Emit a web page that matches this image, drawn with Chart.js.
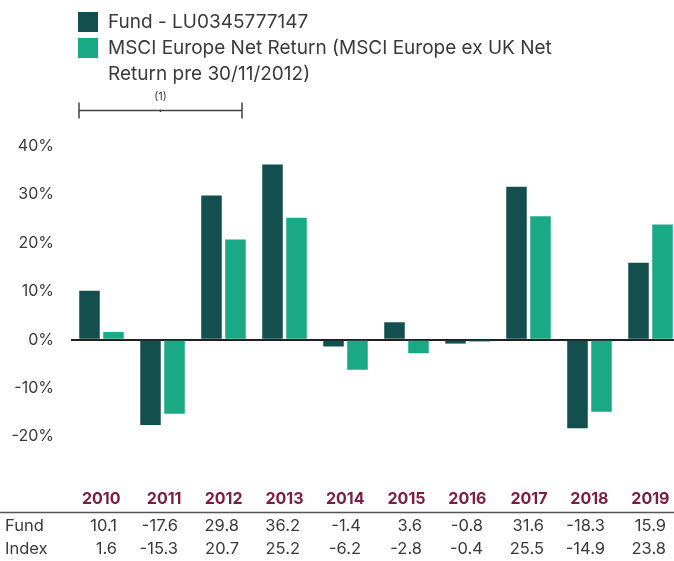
<!DOCTYPE html>
<html>
<head>
<meta charset="utf-8">
<script src="https://cdn.jsdelivr.net/npm/chart.js@4/dist/chart.umd.min.js"></script>
<style>
  html, body { margin: 0; padding: 0; background: #fff; overflow: hidden; }
  #wrap { width: 682px; height: 561px; }
</style>
</head>
<body>
<div id="wrap"><canvas id="perf" width="682" height="561"></canvas></div>
<script>
const years = ['2010', '2011', '2012', '2013', '2014', '2015', '2016', '2017', '2018', '2019']
const fundValues = [10.1, -17.6, 29.8, 36.2, -1.4, 3.6, -0.8, 31.6, -18.3, 15.9]
const indexValues = [1.6, -15.3, 20.7, 25.2, -6.2, -2.8, -0.4, 25.5, -14.9, 23.8]
const seriesNames = ['Fund - LU0345777147', 'MSCI Europe Net Return (MSCI Europe ex UK Net Return pre 30/11/2012)']
const legendLines = [['Fund - LU0345777147'], ['MSCI Europe Net Return (MSCI Europe ex UK Net', 'Return pre 30/11/2012)']]
const rowNames = ['Fund', 'Index']
const yTicks = [40, 30, 20, 10, 0, -10, -20]
const bracketNote = '(1)'

const colours = { fund: '#124f4e', index: '#19a985', text: '#3a3a3a', year: '#7b1d3f', zero: '#231f20' }
const fontFamily = 'Inter, "Open Sans", sans-serif'

Chart.defaults.font.family = fontFamily
Chart.defaults.color = colours.text

// legend, bracket and the table under the bars
const extras = {
    id: 'extras',
    afterDraw(chart) {
        const ctx = chart.ctx
        const x = chart.scales.x
        ctx.save()

        // legend
        let y = 12
        chart.data.datasets.forEach((ds, i) => {
            ctx.fillStyle = ds.backgroundColor
            ctx.fillRect(78, y, 20, 20)
            ctx.fillStyle = colours.text
            ctx.font = '19px ' + fontFamily
            ctx.textAlign = 'left'
            ctx.textBaseline = 'middle'
            legendLines[i].forEach((line, j) => {
                ctx.fillText(line, 108, y + 10 + j * 26)
            })
            y += 26 * legendLines[i].length
        })

        // bracket over 2010-2012
        const bl = x.getPixelForValue(0) - 22.5
        const br = x.getPixelForValue(2) + 18.5
        const by = 110.5
        ctx.strokeStyle = '#444'
        ctx.lineWidth = 1.5
        ctx.beginPath()
        ctx.moveTo(bl, by); ctx.lineTo(br, by)
        ctx.moveTo(bl, by - 8); ctx.lineTo(bl, by + 8)
        ctx.moveTo(br, by - 8); ctx.lineTo(br, by + 8)
        ctx.moveTo((bl + br) / 2, by - 1); ctx.lineTo((bl + br) / 2, by + 1.5)
        ctx.stroke()
        ctx.fillStyle = colours.text
        ctx.font = '11px ' + fontFamily
        ctx.textAlign = 'center'
        ctx.fillText(bracketNote, (bl + br) / 2, 97)

        // years
        ctx.font = 'bold 16px ' + fontFamily
        ctx.fillStyle = colours.year
        ctx.textAlign = 'right'
        years.forEach((yr, i) => {
            ctx.fillText(yr, x.getPixelForValue(i) + 19, 499.5)
        })

        // separator
        ctx.strokeStyle = '#555'
        ctx.lineWidth = 1.5
        ctx.beginPath()
        ctx.moveTo(0, 512.5); ctx.lineTo(chart.width, 512.5)
        ctx.stroke()

        // rows
        const rows = [fundValues, indexValues]
        ctx.font = '16.5px ' + fontFamily
        ctx.fillStyle = colours.text
        rows.forEach((vals, r) => {
            const ry = 526 + r * 23
            ctx.textAlign = 'left'
            ctx.fillText(rowNames[r], 5, ry)
            ctx.textAlign = 'right'
            vals.forEach((v, i) => {
                ctx.fillText(v.toFixed(1), x.getPixelForValue(i) + 15.5, ry)
            })
        })
        ctx.restore()
    }
}

const config = {
    type: 'bar',
    data: {
        labels: years,
        datasets: [{
            label: seriesNames[0],
            data: fundValues,
            backgroundColor: colours.fund,
            categoryPercentage: 0.787,
            barPercentage: 0.855
        }, {
            label: seriesNames[1],
            data: indexValues,
            backgroundColor: colours.index,
            categoryPercentage: 0.787,
            barPercentage: 0.855
        }]
    },
    options: {
        responsive: false,
        animation: false,
        layout: { padding: { top: 146, bottom: 76, left: 0, right: 1 } },
        plugins: {
            legend: { display: false },
            tooltip: { enabled: false }
        },
        scales: {
            x: { display: false },
            y: {
                min: -30,
                max: 40,
                z: 1,
                afterFit(scale) { scale.width = 71 },
                afterBuildTicks(scale) {
                    scale.ticks = yTicks.map(v => ({ value: v }))
                },
                border: { display: false },
                grid: {
                    drawTicks: false,
                    color: (c) => c.tick && c.tick.value === 0 ? colours.zero : 'rgba(0,0,0,0)',
                    lineWidth: 2
                },
                ticks: {
                    padding: 17,
                    font: { size: 16 },
                    color: colours.text,
                    callback: (v) => v + '%'
                }
            }
        }
    },
    plugins: [extras]
}

new Chart(document.getElementById('perf'), config)
</script>
</body>
</html>
